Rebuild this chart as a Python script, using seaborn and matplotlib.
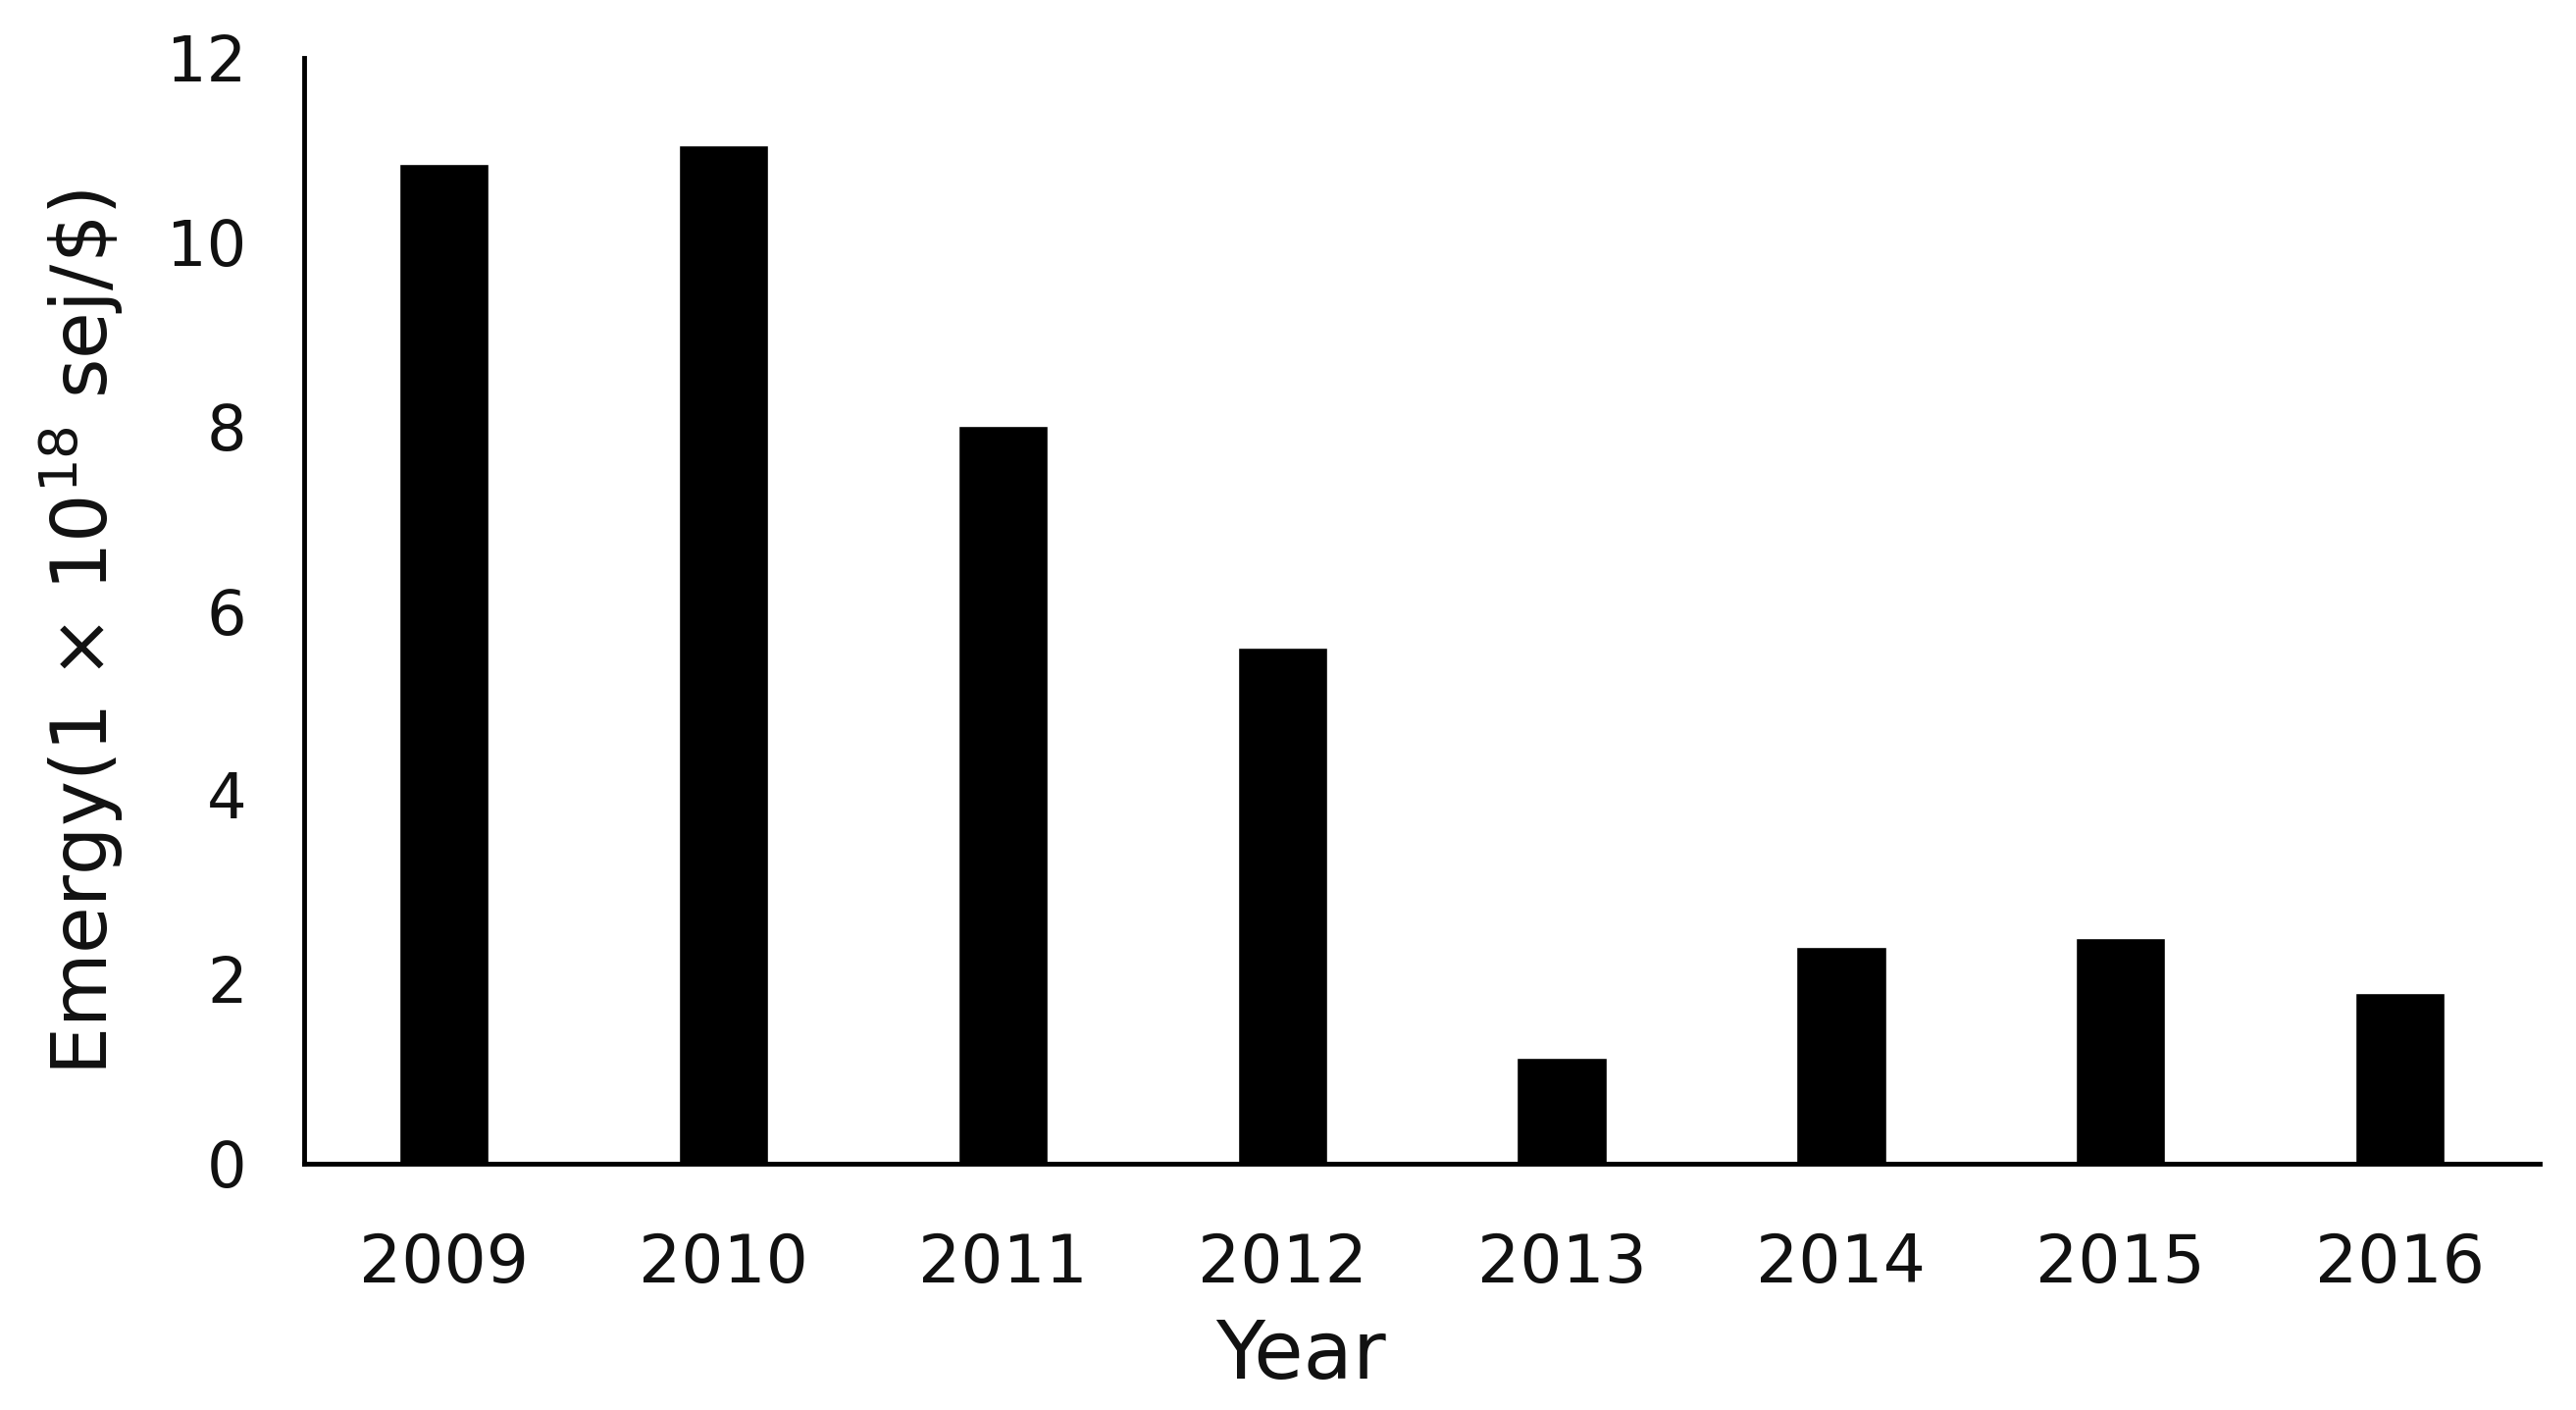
import matplotlib
matplotlib.use("Agg")
import matplotlib.pyplot as plt
import seaborn as sns
import pandas as pd

# Valores
years = ["2009", "2010", "2011", "2012", "2013", "2014", "2015", "2016"]
emergy = [10.85, 11.05, 8.0, 5.6, 1.15, 2.35, 2.45, 1.85]
y_ticks = [0, 2, 4, 6, 8, 10, 12]

sns.set_theme(style="white")
plt.rcParams["font.family"] = ["DejaVu Sans"]

df = pd.DataFrame({"Year": years, "Emergy": emergy})

fig = plt.figure(figsize=(26.26, 14.37), dpi=100)
ax = fig.add_axes([0.118, 0.175, 0.868, 0.784])

sns.barplot(data=df, x="Year", y="Emergy", order=years, color="black",
            saturation=1, width=0.32, ax=ax)

ax.set_ylim(0, 12)
ax.set_xlim(-0.5, 7.5)
ax.set_yticks(y_ticks)
ax.tick_params(axis="x", labelsize=49, length=0, pad=50, colors="#111111")
ax.tick_params(axis="y", labelsize=46, length=0, pad=42, colors="#111111")

for side in ["top", "right"]:
    ax.spines[side].set_visible(False)
for side in ["left", "bottom"]:
    ax.spines[side].set_color("black")
    ax.spines[side].set_linewidth(3.5)

ax.set_xlabel("Year", fontsize=59, color="#111111")
ax.xaxis.set_label_coords(0.446, -0.14)
ax.set_ylabel(r"Emergy(1 $\times$ 10$^{18}$ sej/\$)", fontsize=56, color="#111111")
ax.yaxis.set_label_coords(-0.08, 0.48)

fig.savefig("out.png", dpi=100, facecolor="white")
